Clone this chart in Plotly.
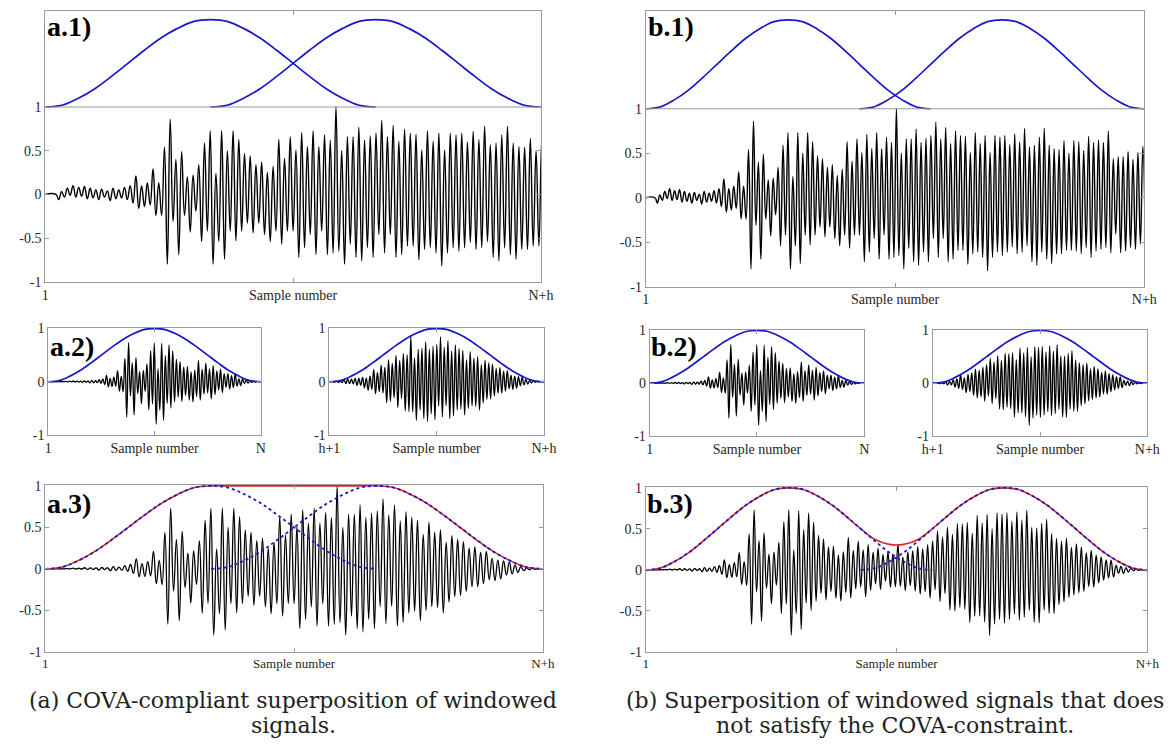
import numpy as np
import plotly.graph_objects as go

# ---------------- data ----------------
# window length and hop sizes (samples)
N = 1000
h_a = 500
h_b = 750

# Hann-shaped analysis window (21 equally spaced samples over N)
win_vals = [0.00, 0.02, 0.10, 0.21, 0.35, 0.50, 0.65, 0.79, 0.90, 0.98, 1.00,
            0.98, 0.90, 0.79, 0.65, 0.50, 0.35, 0.21, 0.10, 0.02, 0.00]

period = 17.3
first_peak = 32.0
peak_vals = [0.00, 0.03, 0.07, 0.10, 0.08, 0.09, 0.07, 0.05, 0.06, 0.04,
             0.07, 0.05, 0.08, 0.10, 0.21, 0.10, 0.13, 0.29, 0.13, 0.54,
             0.86, 0.40, 0.49, 0.20, 0.22, 0.34, 0.59, 0.73, 0.24, 0.73,
             0.50, 0.73, 0.63, 0.47, 0.44, 0.34, 0.37, 0.25, 0.32, 0.63,
             0.41, 0.66, 0.51, 0.71, 0.55, 0.73, 0.55, 0.68, 0.62, 1.00,
             0.50, 0.66, 0.66, 0.77, 0.62, 0.67, 0.70, 0.85, 0.66, 0.79,
             0.61, 0.75, 0.70, 0.69, 0.51, 0.73, 0.61, 0.70, 0.51, 0.70,
             0.68, 0.70, 0.60, 0.72, 0.63, 0.78, 0.57, 0.59, 0.68, 0.78,
             0.59, 0.55, 0.54, 0.64, 0.50, 0.64, 0.63, 0.53, 0.69, 0.62,
             0.65, 0.62, 0.75, 0.44, 0.46, 0.46, 0.52, 0.43, 0.51, 0.58]
trough_vals = [-0.06, -0.03, -0.01, -0.03, -0.02, -0.05, -0.04, -0.06, -0.03, -0.07,
               -0.05, -0.04, -0.06, -0.10, -0.16, -0.14, -0.12, -0.24, -0.24, -0.80,
               -0.31, -0.69, -0.24, -0.43, -0.19, -0.54, -0.42, -0.80, -0.54, -0.74,
               -0.42, -0.53, -0.42, -0.33, -0.44, -0.33, -0.46, -0.54, -0.42, -0.57,
               -0.42, -0.42, -0.72, -0.61, -0.46, -0.69, -0.42, -0.69, -0.67, -0.65,
               -0.80, -0.57, -0.72, -0.76, -0.61, -0.72, -0.46, -0.67, -0.46, -0.72,
               -0.69, -0.59, -0.59, -0.75, -0.63, -0.61, -0.67, -0.82, -0.67, -0.61,
               -0.65, -0.61, -0.55, -0.63, -0.61, -0.54, -0.72, -0.76, -0.61, -0.69,
               -0.74, -0.63, -0.63, -0.59, -0.59, -0.60, -0.63, -0.56, -0.67, -0.60,
               -0.58, -0.56, -0.62, -0.41, -0.62, -0.60, -0.56, -0.58, -0.52, -0.60]

x_ticktext_full = ["1", "Sample number", "N+h"]
x_ticktext_first = ["1", "Sample number", "N"]
x_ticktext_second = ["h+1", "Sample number", "N+h"]
y_ticks_fine = [-1, -0.5, 0, 0.5, 1]
y_ticks_coarse = [-1, 0, 1]
panel_labels = ["a.1)", "a.2)", "a.3)", "b.1)", "b.2)", "b.3)"]
caption_lines = [["(a) COVA-compliant superposition of windowed", "signals."],
                 ["(b) Superposition of windowed signals that does", "not satisfy the COVA-constraint."]]

# ---------------- derived series ----------------
k = np.arange(len(peak_vals))
t_peaks = first_peak + period * k
t_troughs = t_peaks + period / 2
t_sig = np.concatenate([[0.0], np.column_stack([t_peaks, t_troughs]).ravel()])
v_sig = np.concatenate([[0.0], np.column_stack([peak_vals, trough_vals]).ravel()])

win = np.array(win_vals)
win_pos = np.linspace(0, N, len(win_vals))


def window(t, offset):
    return np.interp(t, win_pos + offset, win, left=0.0, right=0.0)


# ---------------- styling ----------------
W, H = 1175, 751
BLUE = "#1818c8"
RED = "#d8262a"
AX = "#9a9a9a"
SERIF = "Times New Roman, Liberation Serif, Tinos, serif"
CAPTION_FONT = "DejaVu Serif"


def xdom(l, r):
    return [l / W, r / W]


def ydom(t, b):
    return [1 - b / H, 1 - t / H]


fig = go.Figure()
layout = {"shapes": []}
ax_i = [0]


def new_axes(xpx, ypx, xr, yr, xtickvals, xticktext, ytickvals, xfont=14):
    ax_i[0] += 1
    i = ax_i[0]
    sx = "" if i == 1 else str(i)
    layout["xaxis" + sx] = dict(
        domain=xdom(*xpx), range=xr, anchor="y" + sx,
        tickvals=xtickvals, ticktext=xticktext,
        ticks="inside", ticklen=4, tickcolor=AX, tickwidth=1,
        showline=True, linecolor=AX, linewidth=1, mirror="ticks",
        showgrid=False, zeroline=False,
        tickfont=dict(family=SERIF, size=xfont, color="#262626"))
    layout["yaxis" + sx] = dict(
        domain=ydom(*ypx), range=yr, anchor="x" + sx,
        tickvals=ytickvals, ticktext=[f"{v:g}" for v in ytickvals],
        ticks="inside", ticklen=4, tickcolor=AX, tickwidth=1,
        showline=True, linecolor=AX, linewidth=1, mirror="ticks",
        showgrid=False, zeroline=False,
        tickfont=dict(family=SERIF, size=14, color="#262626"))
    return "x" + sx, "y" + sx


def line(xa, ya, x, y, color, width, dash=None, smoothing=1.0):
    fig.add_trace(go.Scatter(x=x, y=y, xaxis=xa, yaxis=ya, mode="lines",
                             line=dict(color=color, width=width, dash=dash, shape="spline", smoothing=smoothing),
                             showlegend=False, hoverinfo="skip"))


def column(h, px):
    total = N + h
    # --- x.1 : raw signal with both windows drawn above it
    xa, ya = new_axes(px["p1x"], px["p1y"], [0, total], [-1, 2.1],
                      [0, total / 2, total], x_ticktext_full, y_ticks_fine)
    layout["shapes"].append(dict(type="line", xref=xa + " domain", yref=ya, x0=0, x1=1, y0=1, y1=1,
                                 line=dict(color=AX, width=1)))
    m = t_sig <= total + period
    line(xa, ya, t_sig[m], v_sig[m], "black", 1.4, smoothing=1.3)
    line(xa, ya, win_pos, 1 + win, BLUE, 1.7)
    line(xa, ya, win_pos + h, 1 + win, BLUE, 1.7)

    # --- x.2 left : first windowed frame
    xa, ya = new_axes(px["p2lx"], px["p2y"], [0, N], [-1, 1.012],
                      [0, N / 2, N], x_ticktext_first, y_ticks_coarse)
    m = t_sig <= N + period
    line(xa, ya, t_sig[m], v_sig[m] * window(t_sig[m], 0), "black", 1.3, smoothing=1.3)
    line(xa, ya, win_pos, win, BLUE, 1.7)

    # --- x.2 right : second windowed frame
    xa, ya = new_axes(px["p2rx"], px["p2y"], [h, total], [-1, 1.012],
                      [h, h + N / 2, total], x_ticktext_second, y_ticks_coarse)
    m = (t_sig >= h - period) & (t_sig <= total + period)
    line(xa, ya, t_sig[m], v_sig[m] * window(t_sig[m], h), "black", 1.3, smoothing=1.3)
    line(xa, ya, win_pos + h, win, BLUE, 1.7)

    # --- x.3 : overlap-add
    xa, ya = new_axes(px["p3x"], px["p3y"], [0, total], [-1, 1.012],
                      [0, total / 2, total], x_ticktext_full, y_ticks_fine, xfont=13)
    m = t_sig <= total + period
    wsum_sig = window(t_sig[m], 0) + window(t_sig[m], h)
    line(xa, ya, t_sig[m], v_sig[m] * wsum_sig, "black", 1.3, smoothing=1.3)
    grid = np.union1d(win_pos, win_pos + h)
    line(xa, ya, grid, window(grid, 0) + window(grid, h), RED, 1.6)
    line(xa, ya, win_pos, win, BLUE, 1.8, "dot")
    line(xa, ya, win_pos + h, win, BLUE, 1.8, "dot")


column(h_a, dict(p1x=(35, 541), p1y=(5, 281), p2lx=(38, 255), p2rx=(325, 544), p2y=(328, 437),
                 p3x=(35, 543), p3y=(488, 658)))
column(h_b, dict(p1x=(648, 1157), p1y=(5, 286), p2lx=(652, 871), p2rx=(941, 1160), p2y=(330, 438),
                 p3x=(648, 1160), p3y=(490, 658)))

annotations = []
for txt, (xp, yp) in zip(panel_labels,
                         [(36, 21), (39, 347), (36, 507), (649, 21), (652, 347), (648, 507)]):
    annotations.append(dict(text=f"<b>{txt}</b>", xref="paper", yref="paper", x=xp / W, y=1 - yp / H,
                            xanchor="left", yanchor="middle", align="left", showarrow=False, borderpad=0,
                            font=dict(family=SERIF, size=28, color="black")))
for lines_, xp in zip(caption_lines, [288, 902]):
    for txt, yp in zip(lines_, [708, 733]):
        annotations.append(dict(text=txt, xref="paper", yref="paper", x=xp / W, y=1 - yp / H,
                                xanchor="center", yanchor="middle", showarrow=False,
                                font=dict(family=CAPTION_FONT, size=22, color="#222")))

fig.update_layout(**layout)
fig.update_layout(width=W, height=H, margin=dict(l=0, r=0, t=0, b=0),
                  paper_bgcolor="white", plot_bgcolor="white", annotations=annotations)
fig.write_html("out.html")
